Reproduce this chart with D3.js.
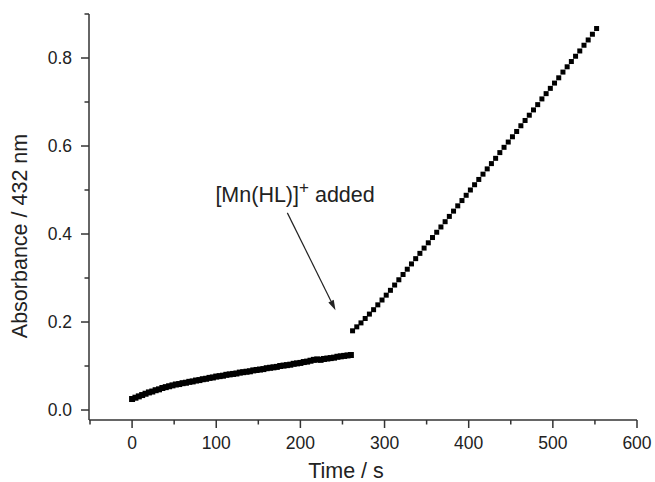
<!DOCTYPE html>
<html>
<head>
<meta charset="utf-8">
<script src="https://cdn.jsdelivr.net/npm/d3@7"></script>
<style>
  html, body { margin: 0; padding: 0; background: #fff; }
  svg { display: block; font-family: "Liberation Sans", Arial, Helvetica, sans-serif; }
</style>
</head>
<body>
<svg id="chart" width="655" height="482"></svg>
<script>
// Absorbance at 432 nm before addition (slow phase)
const timeBefore = [0,4,8,12,16,20,24,28,32,36,40,44,48,52,56,60,64,68,72,76,80,84,88,92,96,100,
  104,108,112,116,120,124,128,132,136,140,144,148,152,156,160,164,168,172,176,180,184,188,192,196,200,
  204,208,212,216,220,224,228,232,236,240,244,248,252,256,260];
const absBefore = [0.025,0.028,0.031,0.034,0.037,0.040,0.042,0.045,0.047,0.050,0.052,0.054,0.056,0.058,
  0.059,0.061,0.062,0.064,0.065,0.067,0.068,0.070,0.071,0.073,0.074,0.076,0.077,0.078,0.080,0.081,0.082,
  0.083,0.085,0.086,0.087,0.088,0.090,0.091,0.092,0.093,0.095,0.096,0.097,0.098,0.100,0.101,0.102,0.103,
  0.105,0.106,0.107,0.109,0.110,0.112,0.114,0.115,0.114,0.116,0.117,0.118,0.119,0.121,0.122,0.123,0.124,0.125];

// Absorbance after [Mn(HL)]+ is added (fast phase)
const timeAfter = [262,267,272,277,282,287,292,297,302,307,312,317,322,327,332,337,342,347,352,357,362,
  367,372,377,382,387,392,397,402,407,412,417,422,427,432,437,442,447,452,457,462,467,472,477,482,487,
  492,497,502,507,512,517,522,527,532,537,542,547,552];
const absAfter = [0.180,0.189,0.198,0.208,0.218,0.228,0.239,0.250,0.261,0.272,0.284,0.296,0.308,0.320,
  0.332,0.344,0.356,0.368,0.380,0.392,0.404,0.416,0.428,0.440,0.452,0.464,0.476,0.488,0.500,0.512,0.524,
  0.536,0.548,0.560,0.572,0.585,0.597,0.609,0.621,0.633,0.646,0.658,0.670,0.682,0.694,0.707,0.719,0.731,
  0.743,0.755,0.768,0.780,0.792,0.804,0.816,0.829,0.841,0.854,0.867];

const xTicks = [0,100,200,300,400,500,600];
const xMinor = [-50,50,150,250,350,450,550];
const yTicks = [0.0,0.2,0.4,0.6,0.8];
const yMinor = [0.1,0.3,0.5,0.7,0.9];

// Annotation: label anchor and arrow (start -> tip), in data units
const noteLabel = { t: 99, a: 0.473 };
const noteArrow = { t0: 184.5, a0: 0.448, t1: 241.7, a1: 0.227 };

const svg = d3.select("#chart");
const axisColor = "#333";
const textColor = "#222";
const tickFont = 17.5, titleFont = 21.5;

const x = d3.scaleLinear().domain([-51.2, 600]).range([89, 637]);
const y = d3.scaleLinear().domain([-0.0227, 0.9]).range([420, 14]);

// Axes
const xAxis = svg.append("g").attr("transform", `translate(0,${y.range()[0]})`);
xAxis.append("line").attr("x1", x.range()[0]).attr("x2", x.range()[1])
  .attr("stroke", axisColor).attr("stroke-width", 1.5);
xAxis.selectAll(".maj").data(xTicks).join("line")
  .attr("x1", d => x(d)).attr("x2", d => x(d)).attr("y1", 0).attr("y2", 8)
  .attr("stroke", axisColor).attr("stroke-width", 1.5);
xAxis.selectAll(".min").data(xMinor).join("line")
  .attr("x1", d => x(d)).attr("x2", d => x(d)).attr("y1", 0).attr("y2", 4.5)
  .attr("stroke", axisColor).attr("stroke-width", 1.5);
xAxis.selectAll("text").data(xTicks).join("text")
  .attr("x", d => x(d)).attr("y", 29)
  .attr("text-anchor", "middle").attr("font-size", tickFont).attr("fill", textColor)
  .text(d => d3.format("d")(d));

const yAxis = svg.append("g").attr("transform", `translate(${x.range()[0]},0)`);
yAxis.append("line").attr("y1", y.range()[0]).attr("y2", y.range()[1])
  .attr("stroke", axisColor).attr("stroke-width", 1.5);
yAxis.selectAll(".maj").data(yTicks).join("line")
  .attr("y1", d => y(d)).attr("y2", d => y(d)).attr("x1", 0).attr("x2", -8)
  .attr("stroke", axisColor).attr("stroke-width", 1.5);
yAxis.selectAll(".min").data(yMinor).join("line")
  .attr("y1", d => y(d)).attr("y2", d => y(d)).attr("x1", 0).attr("x2", -4.5)
  .attr("stroke", axisColor).attr("stroke-width", 1.5);
yAxis.selectAll("text").data(yTicks).join("text")
  .attr("x", -17).attr("y", d => y(d)).attr("dy", "0.35em")
  .attr("text-anchor", "end").attr("font-size", tickFont).attr("fill", textColor)
  .text(d => d3.format(".1f")(d));

// Axis titles
svg.append("text").attr("x", 346).attr("y", 478)
  .attr("text-anchor", "middle").attr("font-size", titleFont).attr("fill", textColor)
  .text("Time / s");
svg.append("text").attr("transform", `translate(27,236) rotate(-90)`)
  .attr("text-anchor", "middle").attr("font-size", titleFont).attr("fill", textColor)
  .text("Absorbance / 432 nm");

// Data markers
const before = timeBefore.map((t, i) => ({ t, a: absBefore[i], s: 6 }));
const after = timeAfter.map((t, i) => ({ t, a: absAfter[i], s: 5 }));
svg.append("g").selectAll("rect").data(before.concat(after)).join("rect")
  .attr("x", d => x(d.t) - d.s / 2).attr("y", d => y(d.a) - d.s / 2)
  .attr("width", d => d.s).attr("height", d => d.s).attr("fill", "#000");

// Annotation
const lbl = svg.append("text").attr("x", x(noteLabel.t)).attr("y", y(noteLabel.a))
  .attr("font-size", titleFont).attr("fill", textColor);
lbl.append("tspan").text("[Mn(HL)]");
lbl.append("tspan").attr("dy", -9).attr("font-size", 17).text("+");
lbl.append("tspan").attr("dy", 9).text(" added");

const ax0 = x(noteArrow.t0), ay0 = y(noteArrow.a0), ax1 = x(noteArrow.t1), ay1 = y(noteArrow.a1);
const ang = Math.atan2(ay1 - ay0, ax1 - ax0);
const headLen = 10, headW = 3;
const bx = ax1 - headLen * Math.cos(ang), by = ay1 - headLen * Math.sin(ang);
svg.append("line").attr("x1", ax0).attr("y1", ay0).attr("x2", bx).attr("y2", by)
  .attr("stroke", "#222").attr("stroke-width", 1.2);
svg.append("path")
  .attr("d", `M${ax1},${ay1}L${bx + headW * Math.sin(ang)},${by - headW * Math.cos(ang)}L${bx - headW * Math.sin(ang)},${by + headW * Math.cos(ang)}Z`)
  .attr("fill", "#222");
</script>
</body>
</html>
